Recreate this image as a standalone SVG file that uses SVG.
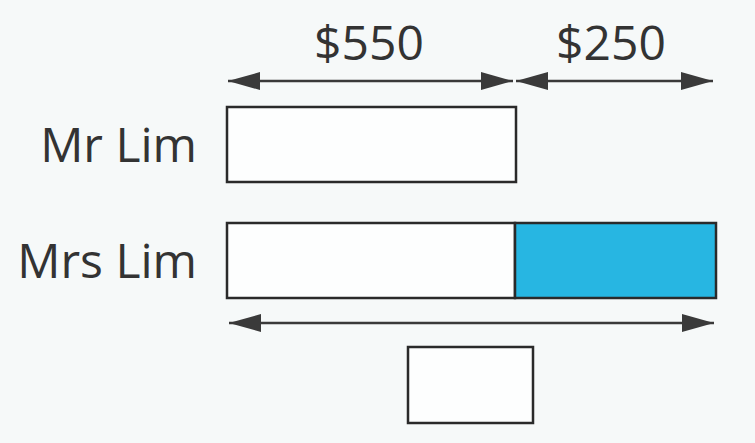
<svg xmlns="http://www.w3.org/2000/svg" width="755" height="443" viewBox="0 0 755 443">
<defs>
<marker id="ah" viewBox="0 0 32 18" refX="32" refY="9" markerWidth="32" markerHeight="18" markerUnits="userSpaceOnUse" orient="auto-start-reverse">
<path d="M0,0 L32,9 L0,18 Z" fill="#3a3a3a"/>
</marker>
<style>
.t{font-family:"Open Sans","Noto Sans",sans-serif;font-size:48px;fill:#333}
.bar{fill:#fdfefe;stroke:#2a2a2a;stroke-width:2.5}
.arr{stroke:#3a3a3a;stroke-width:2.5;fill:none;marker-start:url(#ah);marker-end:url(#ah)}
</style>
</defs>
<rect width="755" height="443" fill="#f6f9f9"/>
<g id="label-550"><text class="t" x="369" y="60" text-anchor="middle">$550</text></g>
<g id="label-250"><text class="t" x="611" y="60" text-anchor="middle">$250</text></g>
<g id="label-mrlim"><text class="t" x="197" y="162" text-anchor="end">Mr Lim</text></g>
<g id="label-mrslim"><text class="t" x="197" y="278" text-anchor="end">Mrs Lim</text></g>
<g id="bar-mrlim"><rect class="bar" x="227" y="107" width="289" height="75"/></g>
<g id="bar-mrslim">
<rect class="bar" x="227" y="223" width="288" height="75"/>
<rect x="515" y="223" width="201" height="75" fill="#27b6e2" stroke="#2a2a2a" stroke-width="2.5"/>
</g>
<g id="box-answer"><rect class="bar" x="408" y="347" width="125" height="76"/></g>
<g id="connectors">
<line class="arr" x1="228" y1="81" x2="513" y2="81"/>
<line class="arr" x1="516" y1="81" x2="713" y2="81"/>
<line class="arr" x1="229" y1="323" x2="714" y2="323"/>
</g>
</svg>
